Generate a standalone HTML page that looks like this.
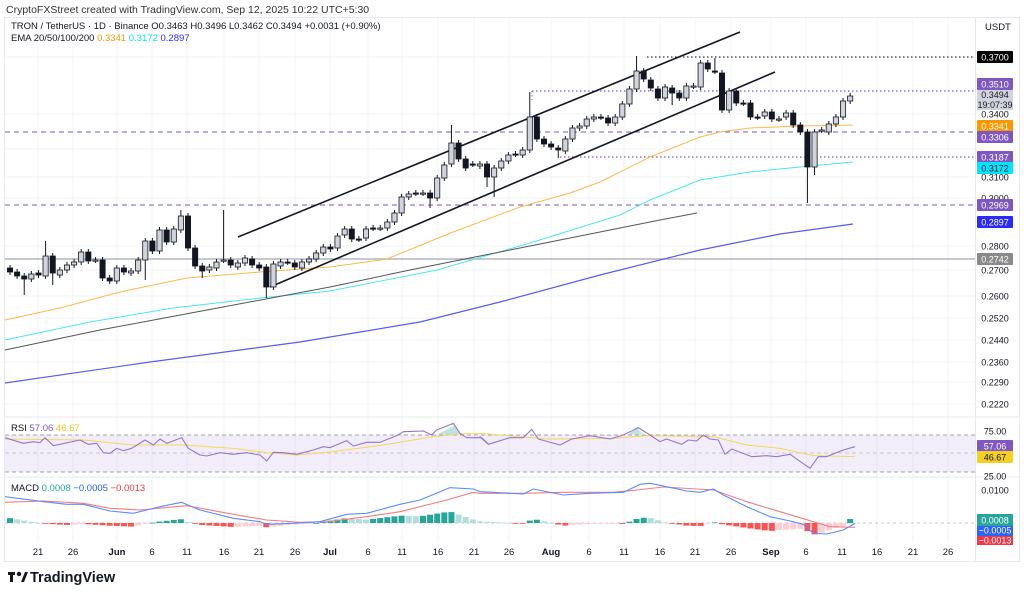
<!DOCTYPE html>
<html><head><meta charset="utf-8"><style>
html,body{margin:0;padding:0;background:#fff;}
svg{display:block;font-family:"Liberation Sans",sans-serif;}
</style></head><body>
<svg id="s" width="1024" height="596" viewBox="0 0 1024 596" xmlns="http://www.w3.org/2000/svg">
<rect width="1024" height="596" fill="#fff"/>
<text x="6" y="13" font-size="10.5" fill="#333">CryptoFXStreet created with TradingView.com, Sep 12, 2025 10:22 UTC+5:30</text>
<rect x="4.5" y="17.5" width="1015" height="544" fill="none" stroke="#e6e8ee"/>
<g id="grid"></g>
<g id="main"></g>
<text x="11" y="29" font-size="9.5" fill="#131722">TRON / TetherUS · 1D · Binance  O0.3463  H0.3496  L0.3462  C0.3494  +0.0031 (+0.90%)</text>
<text x="11" y="41" font-size="9.5" fill="#131722">EMA 20/50/100/200 <tspan fill="#ff9800">0.3341</tspan> <tspan fill="#00e5ff">0.3172</tspan> <tspan fill="#2a2aff">0.2897</tspan></text>
<text x="985" y="30" font-size="9.5" fill="#131722">USDT</text>
<text x="11" y="431" font-size="9.5" fill="#131722">RSI <tspan fill="#7e57c2">57.06</tspan> <tspan fill="#f5c518">46.67</tspan></text>
<text x="11" y="491" font-size="9.5" fill="#131722">MACD <tspan fill="#26a69a">0.0008</tspan> <tspan fill="#2962ff">−0.0005</tspan> <tspan fill="#f23645">−0.0013</tspan></text>
<g id="axis"></g>
<g transform="translate(8,570)"><rect x="0" y="2" width="7" height="3" fill="#131722"/><rect x="2" y="2" width="3" height="10" fill="#131722"/><circle cx="11" cy="4" r="2.2" fill="#131722"/><polygon points="13,12 17,2 20,2 16,12" fill="#131722"/></g>
<text x="30" y="582" font-size="14.5" font-weight="bold" fill="#131722">TradingView</text>
</svg>
<script>
const NS="http://www.w3.org/2000/svg";
function el(p,t,a,txt){const e=document.createElementNS(NS,t);for(const k in a)e.setAttribute(k,a[k]);if(txt!==undefined)e.textContent=txt;p.appendChild(e);return e;}
const G=document.getElementById('grid'),M=document.getElementById('main'),A=document.getElementById('axis');
const dates=[[38,"21"],[73,"26"],[117,"Jun",1],[152,"6"],[187,"11"],[224,"16"],[259,"21"],[295,"26"],[330,"Jul",1],[368,"6"],[402,"11"],[438,"16"],[474,"21"],[509,"26"],[551,"Aug",1],[589,"6"],[624,"11"],[660,"16"],[695,"21"],[731,"26"],[771,"Sep",1],[806,"6"],[842,"11"],[877,"16"],[913,"21"],[948,"26"]];
dates.forEach(d=>{el(G,'line',{x1:d[0],x2:d[0],y1:18,y2:542,stroke:'#f2f3f7','stroke-width':1});
 el(A,'text',{x:d[0],y:555,'font-size':9.5,'text-anchor':'middle',fill:'#131722','font-weight':d[2]?'bold':'normal'},d[1]);});
[57,114,149,177,198,246,270,296,318,340,362,382,404].forEach(y=>el(G,'line',{x1:5,x2:975,y1:y,y2:y,stroke:'#f2f3f7'}));
el(G,'line',{x1:5,x2:1019,y1:417,y2:417,stroke:'#e6e8ee'});
el(G,'line',{x1:5,x2:1019,y1:477,y2:477,stroke:'#e6e8ee'});
el(G,'line',{x1:975.5,x2:975.5,y1:18,y2:562,stroke:'#e6e8ee'});
el(G,'rect',{x:5,y:435,width:970,height:37,fill:'#7e57c2','fill-opacity':0.1});
[435,472].forEach(y=>el(G,'line',{x1:5,x2:975,y1:y,y2:y,stroke:'#888','stroke-dasharray':'4,3','stroke-width':0.8}));
el(G,'line',{x1:5,x2:975,y1:453,y2:453,stroke:'#bbb','stroke-dasharray':'4,3','stroke-width':0.8});
el(G,'line',{x1:5,x2:975,y1:523,y2:523,stroke:'#bbb','stroke-dasharray':'3,3','stroke-width':0.8});
el(M,'line',{x1:647,x2:975,y1:57,y2:57,stroke:'#333','stroke-dasharray':'1.5,2.5','stroke-width':1.2});
el(M,'line',{x1:532,x2:975,y1:91,y2:91,stroke:'#7e57c2','stroke-dasharray':'1.5,2.5','stroke-width':1.2});
el(M,'line',{x1:532,x2:532,y1:91,y2:100,stroke:'#7e57c2','stroke-dasharray':'1.5,2.5'});
el(M,'line',{x1:5,x2:975,y1:132,y2:132,stroke:'#7e57c2','stroke-dasharray':'5,4','stroke-width':1.1});
el(M,'line',{x1:560,x2:975,y1:157,y2:157,stroke:'#7e57c2','stroke-dasharray':'1.5,2.5','stroke-width':1.2});
el(M,'line',{x1:5,x2:975,y1:205,y2:205,stroke:'#7e57c2','stroke-dasharray':'5,4','stroke-width':1.1});
el(M,'line',{x1:5,x2:975,y1:259,y2:259,stroke:'#b2b5be','stroke-width':1.5});
function pl(pts,c,w){el(M,'polyline',{points:pts.map(p=>p.join(',')).join(' '),fill:'none',stroke:c,'stroke-width':w||1,'stroke-linejoin':'round'});}
pl([[5,320],[60,308],[120,292],[187,278],[260,272],[330,267],[387,259],[453,232],[520,207],[570,193],[600,182],[650,157],[700,137],[720,132],[750,128],[800,126],[853,125]],'#ffb74d',1);
pl([[5,340],[90,322],[173,308],[260,298],[330,291],[437,270],[530,243],[620,215],[650,200],[700,180],[750,172],[800,167],[853,162]],'#4de6f0',1);
pl([[5,350],[100,330],[207,310],[330,287],[410,270],[520,248],[620,228],[660,220],[697,213]],'#555',1);
pl([[5,383],[150,362],[300,342],[420,322],[500,302],[600,275],[700,250],[780,234],[853,224]],'#5b5bf0',1.2);
pl([[238,237],[740,32]],'#131722',1.6);
pl([[270,287],[775,72]],'#131722',1.6);
const C=[[268,272],[272,276],[276,279,0,295],[279,274],[273,275],[276,256,241],[256,273,0,285],[275,270],[270,265],[265,262],[262,252],[252,261],[260,260],[260,278],[278,281],[281,268],[268,272],[273,271],[271,260],[260,241,0,280],[241,251],[251,230],[230,242],[242,229],[230,216,210],[216,248],[248,266],[266,271,0,278],[270,267],[268,262],[260,260,210],[260,265],[267,263],[263,258],[259,265],[265,268],[267,287,0,298],[287,264],[266,262],[262,262],[263,267],[268,262],[262,259],[259,253],[253,247],[247,249],[248,236],[235,229],[229,239],[239,239],[238,229],[228,228],[228,228],[228,222],[222,213],[213,197],[197,194],[193,193],[193,193],[193,198,0,208],[198,178],[178,165],[164,143,125],[143,159],[159,168],[164,164],[166,164],[164,177,0,187],[177,168,0,197],[168,161],[161,155],[154,154],[155,150],[150,117,92],[117,139],[139,144],[144,147],[148,150,0,158],[151,139],[139,128],[128,126],[126,119],[119,117],[117,117],[118,123],[123,117],[117,104],[104,89],[89,71,56],[71,79],[80,88],[89,98],[98,87],[88,93,0,105],[93,98],[98,86],[86,86],[87,63],[63,69],[71,71,58],[73,110],[110,91],[91,103],[103,103],[103,117],[117,117],[116,112],[112,119],[119,119],[117,113],[113,125],[125,132],[132,167,0,203],[167,132,0,175],[130,130],[132,124],[124,117],[117,101],[101,96]];
C.forEach((c,i)=>{const x=10+i*7.12;let o=c[0],cl=c[1];const top=Math.min(o,cl),bot=Math.max(o,cl);const h=c[2]||top-3,l=c[3]||bot+3;
 el(M,'line',{x1:x,x2:x,y1:h,y2:l,stroke:'#131722','stroke-width':1});
 const up=cl<o||(cl==o&&i%2==0);el(M,'rect',{x:x-2.6,y:top,width:5.2,height:Math.max(bot-top,1.2),fill:up?'#d1d4dc':'#131722',stroke:'#131722','stroke-width':0.8});});
function P(arr,ox,oy){return arr.map(p=>[ox+p[0]/3,oy+p[1]/3]);}
function rpl(pts,c,w){el(G,'polyline',{points:pts.map(p=>p.join(',')).join(' '),fill:'none',stroke:c,'stroke-width':w||1,'stroke-linejoin':'round'});}
const rsi=P([[15,68],[70,85],[100,80],[120,83],[135,68],[160,92],[240,75],[265,88],[290,85],[310,113],[330,115],[350,100],[370,107],[395,100],[435,75],[460,90],[480,72],[500,85],[545,68],[565,100],[600,120],[620,123],[660,113],[700,118],[740,113],[780,120],[800,138],[820,112],[850,113],[890,118],[940,105],[970,95],[990,98],[1040,77],[1060,93],[1100,82],[1140,82],[1190,62],[1210,50],[1270,48],[1295,60],[1310,45],[1360,25],[1380,55],[1400,68],[1445,68],[1465,87]],0,415).concat(P([[0,65],[25,88],[90,68],[130,68],[155,43],[175,72],[240,90],[275,72],[330,62],[390,72],[430,60],[475,38],[510,60],[540,80],[560,72],[605,88],[625,75],[650,78],[670,60],[690,72],[715,75],[735,118],[755,102],[815,125],[860,122],[890,125],[930,118],[990,160],[1015,125],[1040,125],[1090,105],[1125,95]],480,415));
const rma=P([[15,72],[250,75],[400,90],[550,90],[700,100],[800,113],[890,120],[1000,110],[1150,90],[1300,65],[1400,55]],0,415).concat(P([[0,55],[200,72],[400,70],[500,62],[700,65],[800,90],[900,100],[1000,122],[1125,125]],480,415));
el(G,'polygon',{points:"437,434.5 452,427 455,425 460,434.5",fill:'#26a69a','fill-opacity':0.3});
el(G,'polygon',{points:"628,434.5 637,428 643,434.5",fill:'#26a69a','fill-opacity':0.3});
rpl(rma,'#f7d55c',1);rpl(rsi,'#9575cd',1.1);
const mb=P([[15,245],[130,260],[200,268],[250,268],[330,288],[400,295],[440,285],[480,275],[545,262],[600,285],[700,310],[780,320],[800,328],[880,325],[960,320],[1040,298],[1100,295],[1200,268],[1260,255],[1350,218],[1420,222],[1440,230]],0,415).concat(P([[0,230],[130,237],[160,222],[250,240],[330,235],[430,232],[480,208],[510,205],[560,215],[620,228],[660,232],[700,222],[730,240],[800,275],[870,305],[930,318],[970,328],[1000,355],[1040,357],[1090,345],[1125,325]],480,415));
const mr=P([[15,262],[130,258],[250,265],[330,280],[420,285],[560,272],[700,298],[800,315],[900,322],[980,320],[1100,305],[1200,290],[1340,255],[1420,232]],0,415).concat(P([[0,235],[130,235],[250,232],[400,232],[470,225],[550,216],[700,225],[800,260],[900,290],[1000,320],[1050,335],[1125,337]],480,415));
function interp(pts,x){for(let i=1;i<pts.length;i++){if(x<=pts[i][0]){const a=pts[i-1],b=pts[i];const t=(x-a[0])/((b[0]-a[0])||1);return a[1]+t*(b[1]-a[1]);}}return pts[pts.length-1][1];}
let prev=0;
for(let i=0;i<119;i++){const x=10+i*7.12;let h=interp(mr,x)-interp(mb,x);if(i==118)h=4;
 const col=h>=0?(h>=prev?'#26a69a':'#b2dfdb'):(h<prev?'#ff5252':'#ffcdd2');prev=h;
 el(G,'rect',{x:x-3,y:h>=0?523-h:523,width:6,height:Math.max(Math.abs(h),0.8),fill:col});}
rpl(mr,'#f77c80',1.1);rpl(mb,'#5b8cff',1.1);
function lab(y,t,bg,fg){if(bg)el(A,'rect',{x:977,y:y-6,width:36,height:12,fill:bg,rx:1});el(A,'text',{x:995,y:y+3.5,'font-size':9,'text-anchor':'middle',fill:fg||'#131722'},t);}
[[114,"0.3400"],[177,"0.3100"],[198,"0.3000"],[246,"0.2800"],[270,"0.2700"],[296,"0.2600"],[318,"0.2520"],[340,"0.2440"],[362,"0.2360"],[382,"0.2290"],[404,"0.2220"],[431,"75.00"],[476,"25.00"],[490,"0.0100"]].forEach(a=>lab(a[0],a[1]));
lab(57,"0.3700","#000","#fff");lab(84,"0.3510","#7e57c2","#fff");
el(A,'rect',{x:977,y:90,width:36,height:20,fill:'#d1d4dc'});
el(A,'text',{x:995,y:98,'font-size':9,'text-anchor':'middle',fill:'#131722'},"0.3494");
el(A,'text',{x:995,y:108,'font-size':9,'text-anchor':'middle',fill:'#131722'},"19:07:39");
lab(126,"0.3341","#ff9800","#fff");lab(137,"0.3306","#7e57c2","#fff");
lab(157,"0.3187","#7e57c2","#fff");lab(168,"0.3172","#00e5ff","#131722");
lab(205,"0.2969","#7e57c2","#fff");lab(222,"0.2897","#2a2aff","#fff");
lab(259,"0.2742","#8a8a8a","#fff");
lab(446,"57.06","#7e57c2","#fff");lab(457,"46.67","#f5d020","#131722");
lab(540,"−0.0013","#f23645","#fff");lab(530,"−0.0005","#2962ff","#fff");lab(520,"0.0008","#26a69a","#fff");
el(A,'rect',{x:976,y:545,width:40,height:16,fill:'#fff'});
</script>
</body></html>
